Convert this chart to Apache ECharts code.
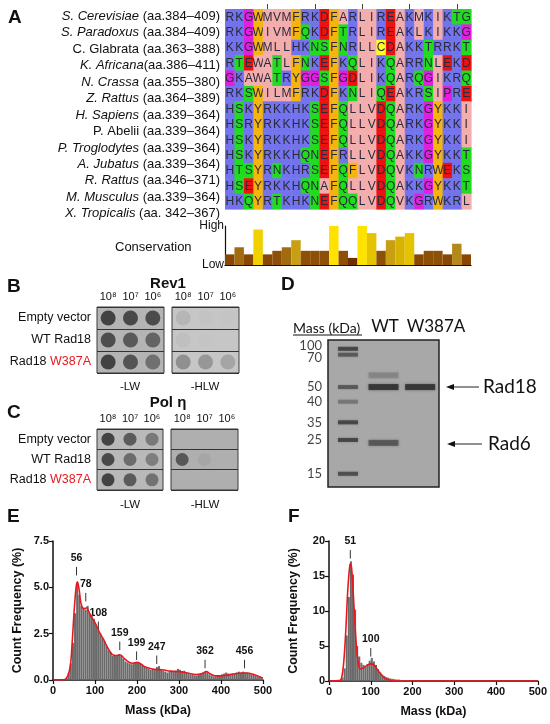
<!DOCTYPE html>
<html>
<head>
<meta charset="utf-8">
<script src="https://cdn.jsdelivr.net/npm/echarts@6/dist/echarts.min.js"></script>
<style>
  html, body { margin: 0; padding: 0; background: #fff; }
  #main { width: 550px; height: 724px; }
</style>
</head>
<body>
<div id="main"></div>
<script>
// ---- panel A : alignment ----
var speciesNames = ['S. Cerevisiae', 'S. Paradoxus', 'C. Glabrata', 'K. Africana', 'N. Crassa', 'Z. Rattus',
  'H. Sapiens', 'P. Abelii', 'P. Troglodytes', 'A. Jubatus', 'R. Rattus', 'M. Musculus', 'X. Tropicalis'];
var speciesItalic = [1, 1, 0, 1, 1, 1, 1, 0, 1, 1, 1, 1, 1];
var speciesRanges = [' (aa.384–409)', ' (aa.384–409)', ' (aa.363–388)', '(aa.386–411)', ' (aa.355–380)',
  ' (aa.364–389)', ' (aa.339–364)', ' (aa.339–364)', ' (aa.339–364)', ' (aa.339–364)', ' (aa.346–371)',
  ' (aa.339–364)', ' (aa. 342–367)'];
var sequences = [
  'RKGWMVMFRKDFARLIREAKMKIKTG',
  'RKGWIVMFQKDFTRLIREAKLKIKKG',
  'KKGWMLLHKNSFNRLLCDAKKTRRKT',
  'RTEWATLFNKEFKQLIKQARRNLEKD',
  'GKAWATRYGGSFGDLIKQARQGIKRQ',
  'RKSWILMFRKDFKNLIQEAKRSIPRE',
  'HSKYRKKHKSEFQLLVDQARKGYKKI',
  'HSRYRKKHKSEFQLLVDQARKGYKKI',
  'HSKYRKKHKSEFQLLVDQARKGYKKI',
  'HSKYRKKHQNEFRLLVDQAKKGYKKT',
  'HTSYRNKHRSEFQFLVDQVKNRWEKS',
  'HSEYRKKHQNAFQLLVDQAKKGYKKT',
  'HKQYRTKHKNEFQQLVDQVKGRWKRL'
];
var conservation = [3, 5, 3, 10, 3, 4, 5, 7, 4, 4, 4, 11, 4, 2, 11, 9, 4, 7, 8, 9, 3, 4, 4, 3, 6, 3];

// ---- panels B, C : spot assays (growth, 0..1) ----
var plateRows = ['Empty vector', 'WT Rad18', 'Rad18 W387A'];
var dilutions = ['10⁸', '10⁷', '10⁶'];
var rev1LW  = [[1.0, 0.95, 0.92], [0.9, 0.8, 0.7], [1.0, 0.85, 0.6]];
var rev1HLW = [[0.12, 0.02, 0.01], [0.05, 0.01, 0.0], [0.42, 0.36, 0.26]];
var polLW   = [[1.0, 0.8, 0.55], [0.95, 0.65, 0.5], [1.0, 0.8, 0.6]];
var polHLW  = [[0, 0, 0], [0.8, 0.08, 0], [0, 0, 0]];

// ---- panel D : gel (migration as fraction of gel length) ----
var ladderMass = [100, 70, 50, 40, 35, 25, 15];
var ladderRf = [0.06, 0.10, 0.32, 0.42, 0.56, 0.68, 0.91];
var ladderInt = [0.8, 0.6, 0.6, 0.35, 0.8, 0.8, 0.7];
var laneX = [0.18, 0.5, 0.83];
var wtRf = [0.24, 0.32, 0.70];
var wtInt = [0.22, 0.95, 0.6];
var mutRf = [0.32];
var mutInt = [0.95];

// ---- panels E, F : mass photometry histograms, 5 kDa bins from 0 ----
var binW = 5;
var histE = [0, 0, 0, 0, 0, 0, 0.1, 0.4, 0.9, 2.0, 3.6, 5.2, 4.6, 4.0, 3.9, 3.8, 4.0, 3.6, 3.5, 3.3,
  3.0, 2.7, 2.5, 2.3, 2.1, 1.85, 1.6, 1.5, 1.3, 1.3, 1.35, 1.4, 1.3, 1.15, 1.0, 0.95, 0.9, 0.85, 0.9, 0.95,
  0.95, 0.9, 0.8, 0.7, 0.65, 0.6, 0.55, 0.6, 0.6, 0.7, 0.75, 0.55, 0.5, 0.45, 0.4, 0.45, 0.5, 0.45, 0.5, 0.6,
  0.55, 0.45, 0.5, 0.4, 0.35, 0.3, 0.3, 0.25, 0.25, 0.3, 0.35, 0.4, 0.45, 0.4, 0.3, 0.25, 0.2, 0.2, 0.25, 0.2,
  0.3, 0.35, 0.4, 0.35, 0.3, 0.35, 0.35, 0.4, 0.45, 0.4, 0.45, 0.4, 0.4, 0.35, 0.3, 0.3, 0.25, 0.2, 0.2, 0.1];
var fitE = [[0, 0], [20, 0], [30, 0.05], [40, 0.6], [45, 1.8], [50, 3.6], [55, 5.0], [58, 5.3], [62, 4.9],
  [66, 4.2], [70, 3.9], [75, 3.85], [80, 3.9], [85, 3.7], [90, 3.45], [100, 3.1], [110, 2.6], [120, 2.2],
  [130, 1.75], [140, 1.4], [150, 1.32], [160, 1.35], [170, 1.15], [180, 0.98], [190, 0.9], [200, 0.95],
  [210, 0.85], [220, 0.7], [240, 0.58], [260, 0.55], [280, 0.48], [300, 0.45], [320, 0.38], [340, 0.3],
  [355, 0.35], [365, 0.45], [375, 0.32], [390, 0.22], [410, 0.25], [430, 0.32], [450, 0.38], [460, 0.38],
  [480, 0.28], [500, 0.1]];
var peaksE = [56, 78, 108, 159, 199, 247, 362, 456];
var peakTopE = [6.1, 4.7, 3.15, 2.07, 1.54, 1.32, 1.09, 1.09];

var histF = [0, 0, 0, 0, 0, 0.1, 0.5, 1.8, 6.5, 12.0, 17.1, 15.2, 10.2, 5.0, 3.5, 2.6, 2.3, 2.1, 2.4, 2.9,
  3.3, 2.8, 2.3, 1.7, 1.2, 0.9, 0.7, 0.55, 0.45, 0.35, 0.3, 0.25, 0.2, 0.2, 0.15, 0.12, 0.1, 0.08, 0.07, 0.06,
  0.05, 0.05, 0.04, 0.04, 0.03, 0.03, 0.03, 0.03, 0.02, 0.02, 0.02, 0.02, 0.02, 0.02, 0.02, 0.03, 0.03, 0.05, 0.1, 0.15,
  0.05, 0.02, 0.02, 0.02, 0.02, 0.02, 0.02, 0.02, 0.02, 0.02, 0.02, 0.02, 0.02, 0.02, 0.02, 0.02, 0.02, 0.02, 0.02, 0.02,
  0.02, 0.02, 0.02, 0.02, 0.02, 0.02, 0.02, 0.02, 0.02, 0.02, 0.02, 0.02, 0.02, 0.02, 0.02, 0.02, 0.02, 0.02, 0.02, 0.02];
var fitF = [[0, 0], [25, 0.05], [30, 0.4], [35, 2.5], [40, 7], [45, 13], [50, 16.6], [52, 16.7], [55, 15.5],
  [60, 10.5], [65, 5.5], [70, 2.6], [75, 1.7], [80, 1.8], [90, 2.2], [100, 2.45], [105, 2.4], [110, 2.1],
  [120, 1.3], [130, 0.6], [140, 0.2], [150, 0.05], [160, 0], [500, 0]];
var peaksF = [51, 100];
var peakTopF = [18.7, 4.7];

// ---- styles ----
var FONT = 'Liberation Sans, Arial, sans-serif';
var GELFONT = 'Lato, Open Sans, sans-serif';
var resColor = {
  K: '#7373ee', R: '#7373ee', H: '#7373ee',
  A: '#f3adad', I: '#f3adad', L: '#f3adad', M: '#f3adad', V: '#f3adad',
  F: '#f5b40e', Y: '#f5b40e', W: '#f5b40e',
  N: '#1fdc1f', Q: '#1fdc1f', S: '#1fdc1f', T: '#1fdc1f',
  D: '#ee1111', E: '#ee1111',
  G: '#e01fe0', P: '#e01fe0',
  C: '#ffff22'
};
var cellOverride = { '3,3': '#f3adad', '4,3': '#f3adad', '0,25': '#1fdc1f' };
var consColor = { 2: '#6e2e00', 3: '#884702', 4: '#8e5006', 5: '#a26b10', 6: '#b5881c', 7: '#c89e12',
  8: '#d6b300', 9: '#e4c300', 10: '#f1d000', 11: '#ffe200' };

var alignCells = [];
sequences.forEach(function (s, r) {
  for (var c = 0; c < s.length; c++) alignCells.push([c, r, s[c]]);
});
var colIdx = sequences[0].split('').map(function (_, i) { return String(i); });
var rowIdx = sequences.map(function (_, i) { return String(i); });

function renderCell(params, api) {
  var cell = alignCells[params.dataIndex];
  var p = api.coord([api.value(0), api.value(1)]);
  var s = api.size([1, 1]);
  var fill = cellOverride[cell[1] + ',' + cell[0]] || resColor[cell[2]];
  return {
    type: 'group',
    children: [
      { type: 'rect', shape: { x: p[0] - s[0] / 2, y: p[1] - s[1] / 2, width: s[0] + 0.6, height: s[1] + 0.6 },
        style: { fill: fill } },
      { type: 'text', style: { text: cell[2], x: p[0], y: p[1] + 0.5, align: 'center', verticalAlign: 'middle',
        fontSize: 12, fontFamily: FONT, fill: '#2a2a3a' } }
    ]
  };
}

function toSpots(m) {
  var out = [];
  m.forEach(function (row, r) {
    row.forEach(function (v, c) {
      out.push({ value: [c, r, v], itemStyle: { color: 'rgba(38,38,38,' + v + ')' } });
    });
  });
  return out;
}

// bin centres on the mass axis
function histData(h) { return h.map(function (v, i) { return [i * binW + binW / 2, v]; }); }

function renderPeak(params, api) {
  var p = api.coord([api.value(0), api.value(1)]);
  return {
    type: 'group',
    children: [
      { type: 'line', shape: { x1: p[0], y1: p[1], x2: p[0], y2: p[1] + 8.5 }, style: { stroke: '#333', lineWidth: 1 } },
      { type: 'text', style: { text: String(api.value(0)), x: p[0], y: p[1] - 3, align: 'center', verticalAlign: 'bottom',
        fontSize: 10.5, fontWeight: 'bold', fontFamily: FONT, fill: '#111' } }
    ]
  };
}

function plateGrid(left, top, width, height, bg) {
  return { left: left, top: top, width: width, height: height, show: true, backgroundColor: bg,
    borderColor: '#3a3a3a', borderWidth: 1 };
}
function plateX(i) {
  return { type: 'category', gridIndex: i, data: dilutions, position: 'top',
    axisLine: { show: false }, axisTick: { show: false },
    axisLabel: { fontSize: 11, color: '#111', margin: 5, fontFamily: FONT } };
}
function plateY(i, labels) {
  return { type: 'category', gridIndex: i, data: plateRows, inverse: true,
    axisLine: { show: false }, axisTick: { show: false },
    splitLine: { show: true, lineStyle: { color: '#333', width: 1 } },
    axisLabel: { show: labels, interval: 0, fontSize: 12.5, color: '#111', margin: 6, fontFamily: FONT,
      formatter: function (v) { return v.replace('W387A', '{r|W387A}'); },
      rich: { r: { color: '#e8191e', fontSize: 12.5, fontFamily: FONT } } } };
}
function spotSeries(i, m, size) {
  return { type: 'scatter', xAxisIndex: i, yAxisIndex: i, data: toSpots(m), symbolSize: size, silent: true };
}

function histXAxis(i) {
  return { type: 'value', gridIndex: i, min: 0, max: 500, interval: 100, name: 'Mass (kDa)',
    nameLocation: 'middle', nameGap: 24,
    nameTextStyle: { fontSize: 12.5, fontWeight: 'bold', color: '#111', fontFamily: FONT },
    axisLine: { show: true, lineStyle: { color: '#111', width: 1.5 } },
    axisTick: { show: true, length: 4, lineStyle: { color: '#111', width: 1.2 } },
    axisLabel: { fontSize: 11, fontWeight: 'bold', color: '#111', margin: 5, fontFamily: FONT },
    splitLine: { show: false } };
}
function histYAxis(i, max, interval, fmt) {
  return { type: 'value', gridIndex: i, min: 0, max: max, interval: interval, name: 'Count Frequency (%)',
    nameLocation: 'middle', nameGap: 29,
    nameTextStyle: { fontSize: 12.5, fontWeight: 'bold', color: '#111', fontFamily: FONT },
    axisLine: { show: true, lineStyle: { color: '#111', width: 1.5 } },
    axisTick: { show: true, length: 4, lineStyle: { color: '#111', width: 1.2 } },
    axisLabel: { fontSize: 11, fontWeight: 'bold', color: '#111', margin: 4, fontFamily: FONT, formatter: fmt },
    splitLine: { show: false } };
}
function histSeries(i, h) {
  return { type: 'bar', xAxisIndex: i, yAxisIndex: i, data: histData(h), barWidth: 2, silent: true,
    itemStyle: { color: '#6a6a6a' } };
}

function txt(x, y, text, size, opts) {
  var o = opts || {};
  return { type: 'text', x: x, y: y, silent: true,
    style: { text: text, fontSize: size, fontFamily: o.font || FONT, fontWeight: o.bold ? 'bold' : 'normal',
      fill: o.color || '#111', align: o.align || 'left', verticalAlign: 'middle' } };
}
function arrow(x1, x2, y) {
  return [
    { type: 'line', shape: { x1: x1 + 6, y1: y, x2: x2, y2: y }, style: { stroke: '#222', lineWidth: 1 } },
    { type: 'polygon', shape: { points: [[x1, y], [x1 + 8, y - 3], [x1 + 8, y + 3]] }, style: { fill: '#111' } }
  ];
}

var ladderLabelShift = { 100: -3, 70: 3 };

var chart = echarts.init(document.getElementById('main'), null, { renderer: 'canvas' });

var option = {
  backgroundColor: '#fff',
  animation: false,
  textStyle: { fontFamily: FONT },
  grid: [
    { left: 222, top: 8, width: 1, height: 214 },                 // 0 species labels
    { left: 225, top: 9, width: 246, height: 200 },               // 1 alignment
    { left: 225, top: 226, width: 246, height: 39 },              // 2 conservation
    plateGrid(97, 307, 67, 66, '#b4b4b4'),                        // 3 Rev1 -LW
    plateGrid(172, 307, 67, 66, '#c6c6c6'),                       // 4 Rev1 -HLW
    plateGrid(97, 429, 66, 61, '#b9b9b9'),                        // 5 Pol eta -LW
    plateGrid(171, 429, 67, 61, '#afafaf'),                       // 6 Pol eta -HLW
    { left: 328, top: 340, width: 111, height: 147, show: true, backgroundColor: '#a8a8a8',
      borderColor: '#222', borderWidth: 1.5 },                    // 7 gel
    { left: 53, top: 541, width: 210, height: 139 },              // 8 E
    { left: 329, top: 541, width: 209, height: 140 }              // 9 F
  ],
  xAxis: [
    { type: 'value', gridIndex: 0, min: 0, max: 1, show: false },
    { type: 'category', gridIndex: 1, data: colIdx, position: 'top',
      axisLine: { show: false }, axisLabel: { show: false },
      axisTick: { show: true, alignWithLabel: true, length: 5, lineStyle: { color: '#444' },
        interval: function (i) { return (i + 1) % 5 === 0; } } },
    { type: 'category', gridIndex: 2, data: colIdx, axisLabel: { show: false }, axisTick: { show: false },
      axisLine: { show: true, lineStyle: { color: '#111', width: 1.2 } } },
    plateX(3), plateX(4), plateX(5), plateX(6),
    { type: 'value', gridIndex: 7, min: 0, max: 1, show: false },
    histXAxis(8), histXAxis(9)
  ],
  yAxis: [
    { type: 'category', gridIndex: 0, data: speciesNames, inverse: true,
      axisLine: { show: false }, axisTick: { show: false },
      axisLabel: { interval: 0, fontSize: 13, color: '#111', margin: 2, fontFamily: FONT,
        formatter: function (v, i) {
          return (speciesItalic[i] ? '{i|' + v + '}' : v) + speciesRanges[i];
        },
        rich: { i: { fontStyle: 'italic', fontSize: 13, color: '#111', fontFamily: FONT } } } },
    { type: 'category', gridIndex: 1, data: rowIdx, inverse: true, show: false },
    { type: 'value', gridIndex: 2, min: 0, max: 11, interval: 11,
      axisLine: { show: true, lineStyle: { color: '#111', width: 1.2 } }, axisTick: { show: false },
      splitLine: { show: false },
      axisLabel: { fontSize: 12, color: '#111', margin: 1, fontFamily: FONT,
        formatter: function (v) { return v === 0 ? 'Low' : 'High'; } } },
    plateY(3, true), plateY(4, false), plateY(5, true), plateY(6, false),
    { type: 'value', gridIndex: 7, min: 0, max: 1, inverse: true, show: false },
    histYAxis(8, 7.5, 2.5, function (v) { return v.toFixed(1); }),
    histYAxis(9, 20, 5, null)
  ],
  series: [
    { type: 'scatter', xAxisIndex: 0, yAxisIndex: 0, data: [] },
    { type: 'custom', xAxisIndex: 1, yAxisIndex: 1, renderItem: renderCell, silent: true,
      data: alignCells.map(function (c) { return [c[0], c[1]]; }) },
    { type: 'bar', xAxisIndex: 2, yAxisIndex: 2, data: conservation, barCategoryGap: '0%', silent: true,
      itemStyle: { color: function (p) { return consColor[p.value]; } } },
    spotSeries(3, rev1LW, 15), spotSeries(4, rev1HLW, 15),
    spotSeries(5, polLW, 13), spotSeries(6, polHLW, 13),
    { type: 'scatter', xAxisIndex: 7, yAxisIndex: 7, symbol: 'rect', symbolSize: [20, 4], silent: true,
      data: ladderRf.map(function (rf, i) {
        return { value: [laneX[0], rf, ladderInt[i], ladderMass[i]],
          itemStyle: { color: 'rgba(40,40,40,' + ladderInt[i] + ')' },
          label: { offset: [0, ladderLabelShift[ladderMass[i]] || 0] } };
      }),
      itemStyle: { shadowBlur: 2, shadowColor: 'rgba(40,40,40,0.6)' },
      label: { show: true, position: 'left', distance: 16, fontSize: 13, color: '#111', fontFamily: GELFONT,
        formatter: function (p) { return String(p.value[3]); } } },
    { type: 'scatter', xAxisIndex: 7, yAxisIndex: 7, symbol: 'rect', symbolSize: [30, 6], silent: true,
      data: wtRf.map(function (rf, i) {
        return { value: [laneX[1], rf], itemStyle: { color: 'rgba(35,35,35,' + wtInt[i] + ')' } };
      }),
      itemStyle: { shadowBlur: 3, shadowColor: 'rgba(40,40,40,0.6)' } },
    { type: 'scatter', xAxisIndex: 7, yAxisIndex: 7, symbol: 'rect', symbolSize: [30, 6], silent: true,
      data: mutRf.map(function (rf, i) {
        return { value: [laneX[2], rf], itemStyle: { color: 'rgba(35,35,35,' + mutInt[i] + ')' } };
      }),
      itemStyle: { shadowBlur: 3, shadowColor: 'rgba(40,40,40,0.6)' } },
    histSeries(8, histE),
    { type: 'line', xAxisIndex: 8, yAxisIndex: 8, data: fitE, smooth: 0.4, showSymbol: false, silent: true,
      lineStyle: { color: '#e8191e', width: 1.6 } },
    { type: 'custom', xAxisIndex: 8, yAxisIndex: 8, renderItem: renderPeak, silent: true,
      data: peaksE.map(function (m, i) { return [m, peakTopE[i]]; }) },
    histSeries(9, histF),
    { type: 'line', xAxisIndex: 9, yAxisIndex: 9, data: fitF, smooth: 0.4, showSymbol: false, silent: true,
      lineStyle: { color: '#e8191e', width: 1.6 } },
    { type: 'custom', xAxisIndex: 9, yAxisIndex: 9, renderItem: renderPeak, silent: true,
      data: peaksF.map(function (m, i) { return [m, peakTopF[i]]; }) }
  ],
  graphic: [
    txt(8, 18, 'A', 19, { bold: true }),
    txt(115, 247, 'Conservation', 13),
    txt(7, 287, 'B', 19, { bold: true }),
    txt(168, 284, 'Rev1', 15, { bold: true, align: 'center' }),
    txt(130, 387, '-LW', 11.5, { align: 'center' }),
    txt(205, 387, '-HLW', 11.5, { align: 'center' }),
    txt(7, 413, 'C', 19, { bold: true }),
    txt(168, 403, 'Pol η', 15, { bold: true, align: 'center' }),
    txt(130, 505, '-LW', 11.5, { align: 'center' }),
    txt(205, 505, '-HLW', 11.5, { align: 'center' }),
    txt(281, 285, 'D', 19, { bold: true }),
    txt(293, 328, 'Mass (kDa)', 14, { font: GELFONT }),
    { type: 'line', shape: { x1: 293, y1: 335, x2: 362, y2: 335 }, style: { stroke: '#111', lineWidth: 1 } },
    txt(385, 327, 'WT', 17, { font: GELFONT, align: 'center' }),
    txt(436, 327, 'W387A', 17, { font: GELFONT, align: 'center' }),
    txt(483, 387, 'Rad18', 19, { font: GELFONT }),
    txt(488, 444, 'Rad6', 19, { font: GELFONT }),
    txt(7, 517, 'E', 19, { bold: true }),
    txt(288, 517, 'F', 19, { bold: true })
  ].concat(arrow(446, 479, 387), arrow(447, 482, 444))
};

chart.setOption(option);
</script>
</body>
</html>
